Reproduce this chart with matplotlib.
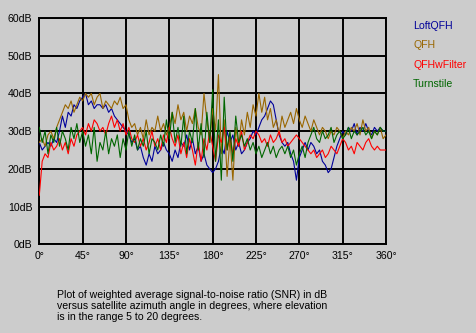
import numpy as np
import matplotlib
matplotlib.use("Agg")
import matplotlib.pyplot as plt

series_names = ["LoftQFH", "QFH", "QFHwFilter", "Turnstile"]
series_colors = ["#000099", "#996600", "#FF0000", "#006600"]

loft_qfh = [27, 25, 26, 27, 26, 28, 27, 30, 34, 31, 35, 34, 37, 36, 38, 39, 40, 37, 38, 36,
            37, 37, 36, 37, 35, 36, 34, 33, 32, 31, 30, 29, 27, 28, 25, 26, 23, 21, 24, 22,
            26, 24, 25, 27, 25, 24, 22, 25, 23, 27, 26, 29, 25, 28, 24, 26, 22, 24, 21, 20,
            19, 20, 22, 26, 24, 30, 27, 29, 25, 27, 24, 25, 27, 28, 30, 29, 31, 33, 34, 36,
            38, 37, 33, 29, 27, 26, 27, 24, 22, 17, 23, 25, 27, 25, 27, 26, 24, 25, 22, 21,
            19, 20, 23, 26, 28, 30, 29, 31, 30, 32, 29, 31, 30, 32, 30, 29, 31, 30, 31, 30, 30]

qfh = [27, 28, 26, 29, 30, 28, 31, 33, 35, 37, 36, 38, 35, 37, 39, 38, 40, 39, 40, 37,
       39, 40, 36, 38, 37, 36, 38, 37, 39, 36, 37, 33, 31, 32, 29, 31, 28, 33, 29, 31,
       30, 34, 30, 32, 29, 31, 35, 32, 37, 33, 35, 30, 34, 32, 36, 31, 29, 40, 33, 27,
       36, 30, 45, 24, 33, 18, 28, 17, 31, 26, 33, 29, 35, 31, 37, 34, 40, 35, 39, 33,
       36, 31, 33, 29, 34, 31, 33, 35, 32, 36, 33, 31, 34, 32, 30, 33, 31, 29, 31, 30,
       28, 30, 29, 31, 30, 28, 30, 29, 31, 30, 32, 29, 33, 30, 31, 28, 30, 29, 31, 28, 29]

qfh_wfilter = [13, 22, 24, 23, 27, 25, 26, 28, 25, 27, 24, 28, 26, 29, 30, 31, 29, 32, 30, 33,
               32, 30, 31, 29, 32, 34, 31, 33, 30, 32, 29, 31, 28, 27, 29, 26, 28, 25, 27, 30,
               26, 28, 25, 29, 27, 31, 28, 26, 29, 24, 27, 23, 28, 25, 21, 27, 22, 28, 25, 30,
               26, 22, 29, 27, 31, 25, 29, 24, 28, 26, 30, 25, 27, 29, 28, 30, 29, 27, 28, 26,
               29, 27, 28, 30, 27, 28, 26, 27, 28, 29, 28, 27, 26, 25, 24, 25, 23, 24, 25, 23,
               24, 26, 25, 24, 26, 28, 27, 25, 26, 24, 27, 26, 25, 27, 28, 26, 25, 26, 25, 25, 25]

turnstile = [31, 27, 30, 24, 29, 27, 31, 26, 30, 28, 25, 31, 28, 32, 27, 30, 26, 29, 24, 31,
             22, 27, 25, 30, 24, 28, 26, 29, 23, 28, 25, 30, 26, 29, 25, 28, 26, 30, 24, 28,
             27, 25, 29, 26, 33, 28, 35, 27, 31, 26, 34, 24, 30, 27, 36, 25, 32, 23, 35, 27,
             41, 22, 33, 17, 39, 25, 30, 22, 34, 27, 29, 26, 28, 25, 27, 24, 26, 23, 25, 27,
             24, 26, 23, 25, 26, 24, 26, 23, 25, 21, 24, 26, 23, 27, 29, 31, 28, 27, 30, 28,
             29, 31, 27, 29, 30, 28, 29, 31, 28, 30, 29, 30, 31, 29, 30, 28, 30, 29, 31, 30, 30]

all_series = [loft_qfh, qfh, qfh_wfilter, turnstile]

y_ticks = [0, 10, 20, 30, 40, 50, 60]
y_labels = ["0dB", "10dB", "20dB", "30dB", "40dB", "50dB", "60dB"]
x_ticks = [0, 45, 90, 135, 180, 225, 270, 315, 360]
x_labels = ["0°", "45°", "90°", "135°", "180°", "225°", "270°", "315°", "360°"]

caption = ("Plot of weighted average signal-to-noise ratio (SNR) in dB\n"
           "versus satellite azimuth angle in degrees, where elevation\n"
           "is in the range 5 to 20 degrees.")

bg = "#CCCCCC"
W, H = 476, 333
fig = plt.figure(figsize=(W / 100, H / 100), dpi=100, facecolor=bg)
plt.rcParams["font.family"] = ["Liberation Sans", "DejaVu Sans"]
fs = 7.6

ax = fig.add_axes([39.3 / W, 1 - 244.3 / H, (386 - 39.3) / W, (244.3 - 18.0) / H])
ax.set_facecolor(bg)
ax.set_xlim(0, 360)
ax.set_ylim(0, 60)
ax.set_xticks(x_ticks)
ax.set_xticklabels(x_labels, fontsize=fs)
ax.set_yticks(y_ticks)
ax.set_yticklabels(y_labels, fontsize=fs)
ax.tick_params(length=0, pad=5)
ax.grid(True, color="black", linewidth=1.4)
ax.set_axisbelow(True)
for s in ax.spines.values():
    s.set_color("black")
    s.set_linewidth(1.4)

for vals, col in zip(all_series, series_colors):
    az = np.linspace(0, 360, len(vals))
    ax.plot(az, vals, color=col, linewidth=0.8, zorder=3)

for i, (name, col) in enumerate(zip(series_names, series_colors)):
    fig.text(413 / W, 1 - (26 + i * 19.3) / H, name, color=col, fontsize=fs,
             ha="left", va="center")

fig.text(57 / W, 1 - 306 / H, caption, fontsize=fs, ha="left", va="center",
         linespacing=1.15)

fig.savefig("out.png", dpi=100, facecolor=bg)
